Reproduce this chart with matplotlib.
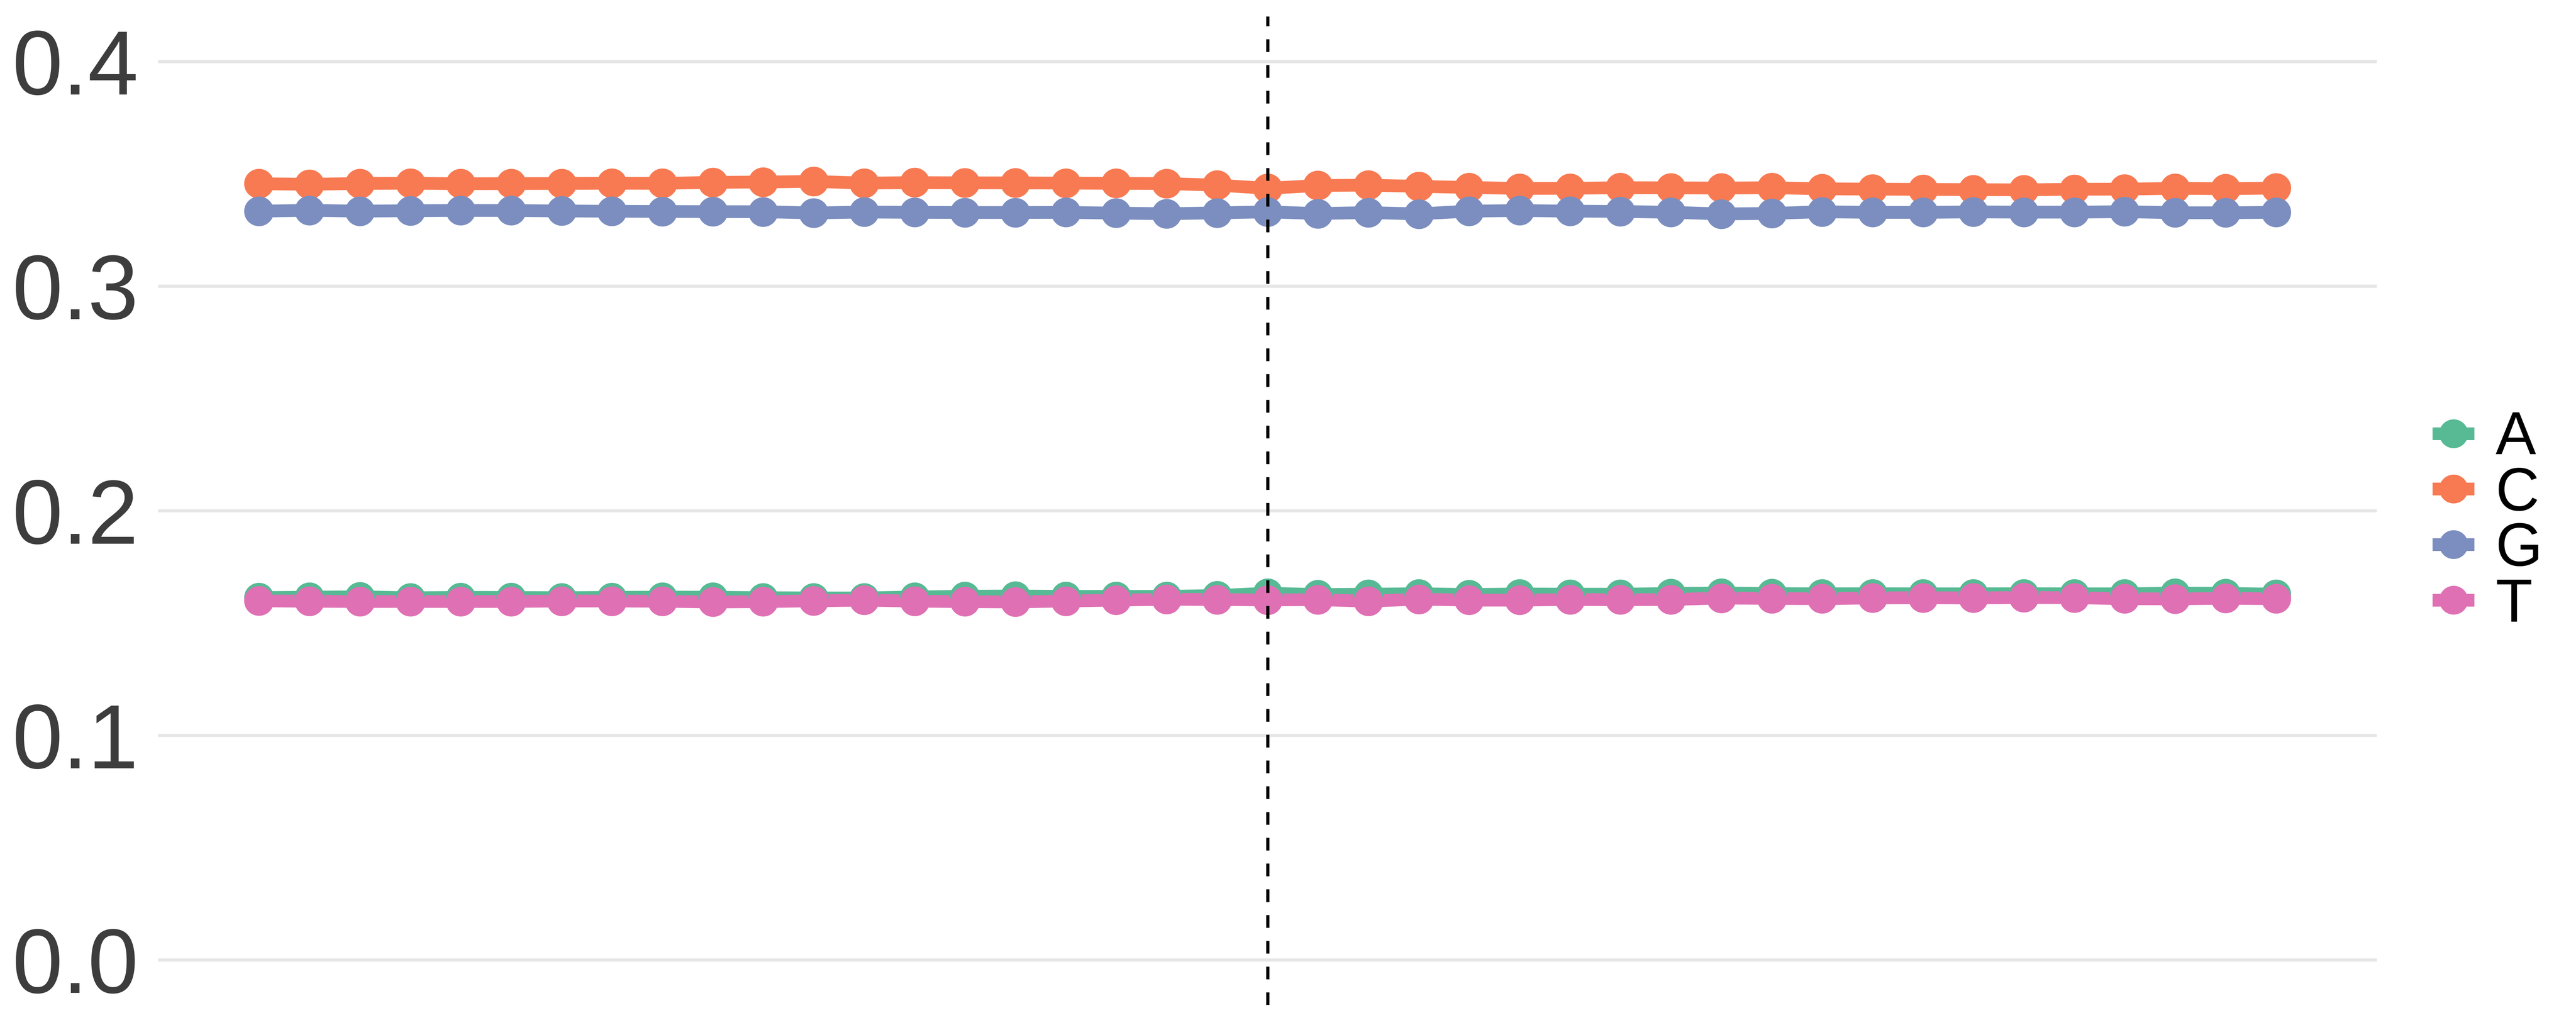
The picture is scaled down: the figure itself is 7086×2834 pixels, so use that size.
import matplotlib
matplotlib.use("Agg")
import matplotlib.pyplot as plt
from matplotlib.lines import Line2D

positions = list(range(-20, 21))

A = [0.16130, 0.16147, 0.16168, 0.16120, 0.16141, 0.16136, 0.16125, 0.16141, 0.16152, 0.16147,
     0.16125, 0.16114, 0.16114, 0.16158, 0.16190, 0.16201, 0.16185, 0.16185, 0.16185, 0.16222,
     0.16325, 0.16265, 0.16281, 0.16303, 0.16265, 0.16292, 0.16281, 0.16281, 0.16314, 0.16335,
     0.16308, 0.16298, 0.16303, 0.16298, 0.16298, 0.16303, 0.16298, 0.16298, 0.16330, 0.16319,
     0.16281]
C = [0.34551, 0.34525, 0.34562, 0.34573, 0.34551, 0.34557, 0.34562, 0.34573, 0.34567, 0.34611,
     0.34627, 0.34654, 0.34578, 0.34600, 0.34589, 0.34589, 0.34578, 0.34567, 0.34557, 0.34487,
     0.34347, 0.34471, 0.34487, 0.34433, 0.34384, 0.34341, 0.34347, 0.34373, 0.34368, 0.34357,
     0.34373, 0.34325, 0.34309, 0.34298, 0.34287, 0.34277, 0.34304, 0.34309, 0.34347, 0.34330,
     0.34357]
G = [0.33331, 0.33366, 0.33331, 0.33350, 0.33360, 0.33358, 0.33339, 0.33325, 0.33317, 0.33309,
     0.33304, 0.33250, 0.33290, 0.33277, 0.33269, 0.33269, 0.33274, 0.33242, 0.33215, 0.33253,
     0.33298, 0.33223, 0.33266, 0.33207, 0.33331, 0.33358, 0.33331, 0.33317, 0.33279, 0.33207,
     0.33228, 0.33304, 0.33274, 0.33274, 0.33298, 0.33285, 0.33285, 0.33307, 0.33258, 0.33258,
     0.33277]
T = [0.15985, 0.15966, 0.15955, 0.15958, 0.15955, 0.15958, 0.15977, 0.15977, 0.15966, 0.15936,
     0.15950, 0.15985, 0.16017, 0.15971, 0.15950, 0.15936, 0.15977, 0.16017, 0.16052, 0.16044,
     0.16025, 0.16039, 0.15971, 0.16061, 0.16017, 0.16017, 0.16044, 0.16033, 0.16044, 0.16109,
     0.16093, 0.16079, 0.16114, 0.16125, 0.16114, 0.16136, 0.16125, 0.16079, 0.16074, 0.16098,
     0.16079]

bases = ["A", "C", "G", "T"]
colors = ["#57BA94", "#F87A52", "#7B8EBF", "#DF70B4"]
yticks = [0.0, 0.1, 0.2, 0.3, 0.4]
ytick_labels = ["0.0", "0.1", "0.2", "0.3", "0.4"]

plt.rcParams["font.family"] = ["Liberation Sans", "DejaVu Sans"]

DPI = 600
fig = plt.figure(figsize=(7086 / DPI, 2834 / DPI), dpi=DPI)
ax = fig.add_axes([435 / 7086, 69 / 2834, (6538 - 435) / 7086, (2765 - 45) / 2834])

series = [A, C, G, T]
LW = 4.2
MS = 9.8
for vals, col in zip(series, colors):
    ax.plot(positions, vals, color=col, lw=LW, zorder=2, solid_capstyle="butt")
for vals, col in zip(series, colors):
    ax.plot(positions, vals, linestyle="none", marker="o", ms=MS, color=col,
            markeredgewidth=0, zorder=3)

ax.axvline(0, color="black", lw=1.05, linestyle=(0, (4.0, 4.1)), zorder=4)

span = positions[-1] - positions[0]
ax.set_xlim(positions[0] - 0.05 * span, positions[-1] + 0.05 * span)
ax.set_ylim(-0.02, 0.42)
ax.set_yticks(yticks)
ax.set_yticklabels(ytick_labels)
ax.set_xticks([])
ax.tick_params(axis="y", length=0, pad=6.5, labelsize=30, labelcolor="#3D3D3D")
ax.grid(axis="y", color="#E6E6E6", lw=1.05, zorder=0)
ax.set_axisbelow(True)
for s in ax.spines.values():
    s.set_visible(False)

handles = [Line2D([0], [0], color=c, lw=LW, marker="o", ms=MS * 0.97,
                  markeredgewidth=0, solid_capstyle="butt") for c in colors]
fig.legend(handles, bases, loc="center left",
           bbox_to_anchor=(6691 / 7086, (2834 - 1437) / 2834),
           frameon=False, borderpad=0, borderaxespad=0,
           handlelength=0.69, handletextpad=0.35, labelspacing=-0.02,
           fontsize=20, numpoints=1)

fig.savefig("out.png", dpi=DPI, facecolor="white")
